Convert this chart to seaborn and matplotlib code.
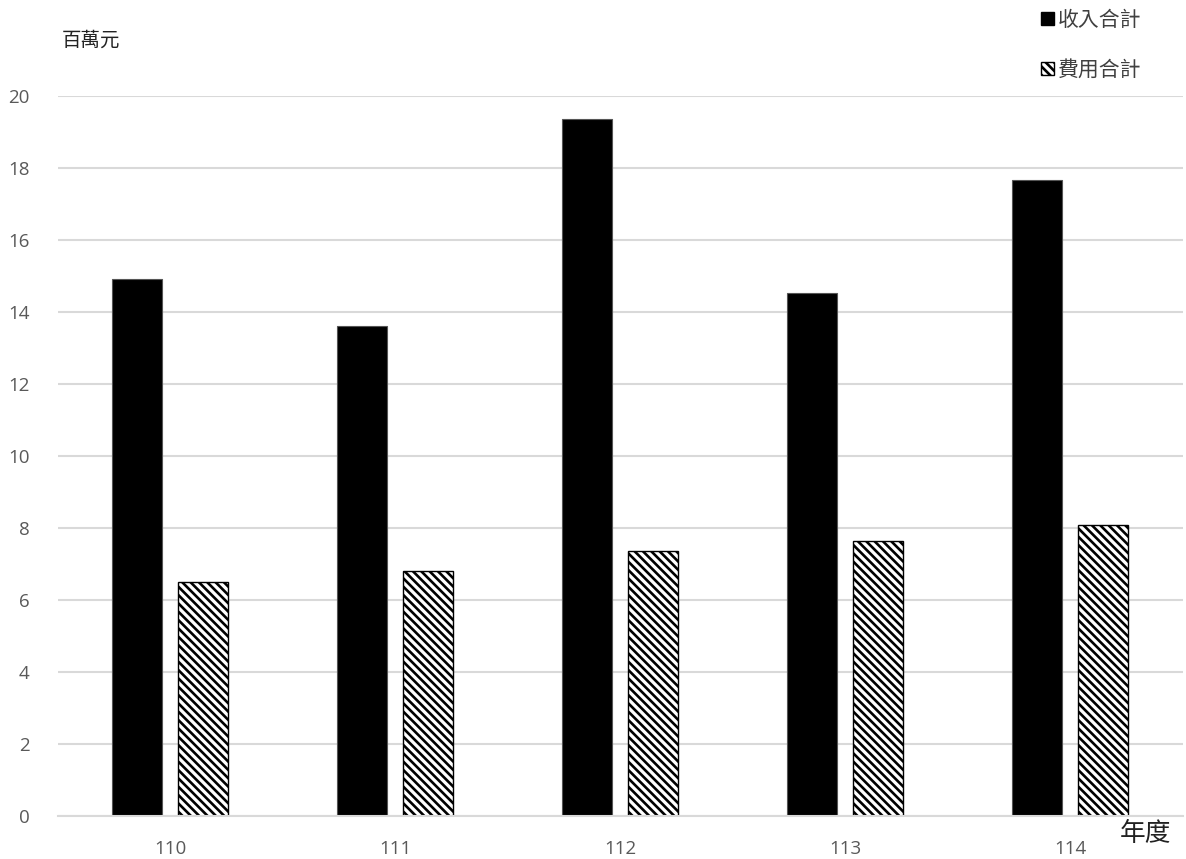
import matplotlib
matplotlib.use("Agg")
import matplotlib.pyplot as plt
import seaborn as sns
import pandas as pd
from matplotlib.patches import Patch

years = ["110", "111", "112", "113", "114"]
revenue = [14.92, 13.61, 19.36, 14.53, 17.67]
expense = [6.50, 6.81, 7.35, 7.64, 8.07]
series_names = ["收入合計", "費用合計"]
y_ticks = [0, 2, 4, 6, 8, 10, 12, 14, 16, 18, 20]

df = pd.DataFrame({
    "年度": years * 2,
    "值": revenue + expense,
    "項目": [series_names[0]] * len(years) + [series_names[1]] * len(years),
})

sns.set_theme(style="white")
plt.rcParams["font.family"] = ["Open Sans", "Noto Sans CJK TC", "DejaVu Sans"]
plt.rcParams["hatch.linewidth"] = 1.9
plt.rcParams["hatch.color"] = "black"

HATCH = "\\\\\\\\"

fig = plt.figure(figsize=(11.86, 8.59), dpi=100)
ax = fig.add_axes([57.5 / 1186, 43 / 859, 1125 / 1186, 720 / 859])

sns.barplot(data=df, x="年度", y="值", hue="項目", order=years,
            hue_order=series_names, palette=["black", "white"],
            width=0.578, gap=0.231, ax=ax, legend=False,
            edgecolor="black", linewidth=1)

n = len(years)
for i, p in enumerate(ax.patches):
    if i >= n:
        p.set_hatch(HATCH)
        p.set_facecolor("white")
        p.set_edgecolor("black")
    else:
        p.set_edgecolor("#555555")
        p.set_linewidth(0.8)

ax.set_xlim(-0.5, 4.5)
ax.set_ylim(0, 20)
ax.set_yticks(y_ticks)
ax.yaxis.grid(True, color="#d9d9d9", linewidth=1.5)
ax.set_axisbelow(True)
for s in ["top", "right", "left"]:
    ax.spines[s].set_visible(False)
ax.spines["bottom"].set_color("#d9d9d9")
ax.spines["bottom"].set_linewidth(1.5)
ax.tick_params(axis="both", length=0, labelsize=13.5, labelcolor="#595959")
ax.tick_params(axis="y", pad=20)
ax.tick_params(axis="x", pad=17)
ax.set_xlabel("")
ax.set_ylabel("")

cjk = ["Noto Sans CJK TC", "DejaVu Sans"]
fig.text(62 / 1186, 1 - 40 / 859, "百萬元", family=cjk, fontsize=14,
         color="#222222", va="center", ha="left")
fig.text(1146 / 1186, 1 - 834 / 859, "年度", family=cjk, fontsize=18.5,
         color="#222222", va="center", ha="center")

handles = [Patch(facecolor="black", edgecolor="black"),
           Patch(facecolor="white", edgecolor="black", hatch=HATCH)]
leg = fig.legend(handles, series_names, loc="upper right",
                 bbox_to_anchor=(1160 / 1186, 1 + 10 / 859), frameon=False,
                 handlelength=0.6, handleheight=0.6, handletextpad=0.2,
                 labelspacing=1.35, prop={"family": cjk, "size": 15})
for t in leg.get_texts():
    t.set_color("#404040")

fig.savefig("out.png", dpi=100)
